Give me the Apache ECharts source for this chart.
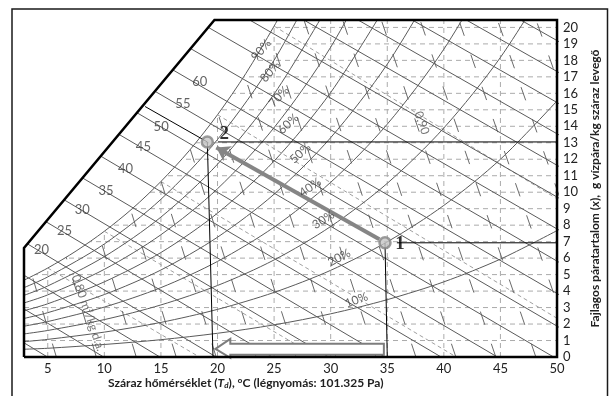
<!DOCTYPE html>
<html>
<head>
<meta charset="utf-8">
<script src="https://cdn.jsdelivr.net/npm/echarts@6/dist/echarts.min.js"></script>
<style>
  html, body { margin: 0; padding: 0; background: #fff; }
  #chart { width: 609px; height: 396px; }
</style>
</head>
<body>
<div id="chart"></div>
<script>
// axis ranges and ticks
const T_MIN = 2.9;
const T_MAX = 50;
const X_MAX = 20.45;
const tempTicks = [5, 10, 15, 20, 25, 30, 35, 40, 45, 50];
const humidityTicks = [0, 1, 2, 3, 4, 5, 6, 7, 8, 9, 10, 11, 12, 13, 14, 15, 16, 17, 18, 19, 20];

// saturation curve (100 %)
const saturationT = [2.9, 5, 7.5, 10, 12.5, 15, 17.5, 20, 22.5, 25, 26];
const saturationX = [4.66, 5.40, 6.43, 7.63, 9.02, 10.65, 12.52, 14.70, 17.20, 20.08, 21.35];

// relative humidity curves, read at these temperatures
const rhTemps = [2.9, 5, 10, 15, 20, 25, 30, 35, 40, 45, 50];
const rh90 = [4.21, 4.86, 6.86, 9.57, 13.20, 18.01, 24.38];
const rh80 = [3.74, 4.31, 6.09, 8.49, 11.70, 15.96, 21.58];
const rh70 = [3.28, 3.77, 5.32, 7.42, 10.21, 13.92, 18.80, 25.16];
const rh60 = [2.81, 3.23, 4.56, 6.34, 8.73, 11.89, 16.05, 21.45];
const rh50 = [2.34, 2.69, 3.79, 5.28, 7.27, 9.88, 13.31, 17.77, 23.52];
const rh40 = [1.87, 2.15, 3.03, 4.21, 5.80, 7.88, 10.60, 14.13, 18.68, 24.47];
const rh30 = [1.40, 1.61, 2.27, 3.16, 4.34, 5.89, 7.92, 10.54, 13.90, 18.18, 23.61];
const rh20 = [0.93, 1.07, 1.51, 2.10, 2.89, 3.92, 5.26, 6.99, 9.20, 12.00, 15.54];
const rh10 = [0.47, 0.53, 0.76, 1.05, 1.44, 1.95, 2.62, 3.48, 4.56, 5.94, 7.67];
const rhCurves = [rh90, rh80, rh70, rh60, rh50, rh40, rh30, rh20, rh10];

// RH curve labels
const rhLabels = ['90%', '80%', '70%', '60%', '50%', '40%', '30%', '20%', '10%'];
const rhLabelT = [23.86, 24.65, 25.43, 26.25, 27.32, 28.19, 29.35, 30.75, 32.27];
const rhLabelX = [18.63, 17.32, 15.80, 14.14, 12.36, 10.30, 8.32, 6.03, 3.46];
const rhLabelAngle = [50, 50, 47, 43, 42, 35, 33, 28, 20];

// enthalpy lines (kJ/kg): temperature where each meets x = 0 and x = X_MAX
const enthalpyValues = [5, 10, 15, 20, 25, 30, 35, 40, 45, 50, 55, 60, 65, 70, 75, 80, 85, 90, 95, 100];
const enthalpyBottomT = [4.97, 9.94, 14.91, 19.88, 24.85, 29.82, 34.79, 39.76, 44.73, 49.70, 54.67, 59.64, 64.61, 69.58, 74.55, 79.52, 84.49, 89.46, 94.43, 99.40];
const enthalpyTopT = [-44.2, -39.4, -34.6, -29.8, -25.0, -20.3, -15.5, -10.7, -5.89, -1.10, 3.69, 8.48, 13.27, 18.06, 22.84, 27.63, 32.42, 37.21, 41.99, 46.79];

// enthalpy scale labels along the left edge
const enthalpyLabels = [20, 25, 30, 35, 40, 45, 50, 55, 60];
const enthalpyLabelT = [4.44, 6.48, 8.05, 10.14, 11.88, 13.45, 15.02, 16.94, 18.43];
const enthalpyLabelX = [6.49, 7.67, 8.93, 10.08, 11.41, 12.75, 13.96, 15.36, 16.69];

// specific volume lines (m3/kg): temperature at x = 0 and at x = X_MAX
const volumeValues = [0.78, 0.79, 0.80, 0.81, 0.82, 0.83, 0.84, 0.85, 0.86, 0.87, 0.88, 0.89, 0.90, 0.91, 0.92, 0.93, 0.94, 0.95];
const volumeBottomT = [2.23, 5.76, 9.29, 12.82, 16.35, 19.88, 23.41, 26.94, 30.47, 34.00, 37.53, 41.06, 44.59, 48.13, 51.66, 55.19, 58.72, 62.25];
const volumeTopT = [-6.54, -3.12, 0.30, 3.72, 7.13, 10.55, 13.97, 17.39, 20.80, 24.22, 27.64, 31.06, 34.47, 37.90, 41.32, 44.74, 48.15, 51.57];
const volumeLabels = ['0,80 m³/kg d.a.', '0,90'];
const volumeLabelT = [8.57, 38.05];
const volumeLabelX = [2.67, 14.2];

// wet-bulb lines: start on saturation, end on the chart edge
const wetBulbStart = [[5, 5.40], [10, 7.63], [15, 10.65], [20, 14.70], [25, 20.08]];
const wetBulbEnd = [[18.4, 0], [28.8, 0], [41.1, 0], [50, 2.35], [50, 9.60]];

// the process: state 1 -> state 2
const pointNames = ['1', '2'];
const pointT = [34.8, 19.1];
const pointX = [6.93, 13.05];
const processArrow = [[34.3, 7.15], [19.9, 12.72]];
const bottomArrow = [[19.82, 0.49], [21.13, 1.1], [21.13, 0.8], [34.7, 0.8], [34.7, 0.13], [21.13, 0.13], [21.13, -0.05]];

// chart outline: left edge, slanted edge, top, right, bottom
const outline = [[2.9, 0], [2.9, 6.62], [19.73, 20.45], [50, 20.45], [50, 0], [2.9, 0]];

const FONT = 'Lato, "Open Sans", sans-serif';
const LINE_GRAY = '#5a5a5a';

function lineSeries(data, lineStyle, z, extra) {
  return Object.assign({
    type: 'line', data: data, symbol: 'none', showSymbol: false, silent: true, animation: false,
    lineStyle: lineStyle, z: z, clip: true
  }, extra || {});
}

function polygonSeries(points, style, z) {
  return {
    type: 'custom', z: z, silent: true, animation: false, clip: false,
    data: [[T_MIN, 0]],
    renderItem: function (params, api) {
      return { type: 'polygon', shape: { points: points.map(p => api.coord(p)) }, style: style };
    }
  };
}

const series = [];

// dashed grid
tempTicks.slice(0, -1).forEach(t => {
  series.push(lineSeries([[t, 0], [t, X_MAX]], { color: '#ababab', width: 1, type: [5, 4] }, 1));
});
humidityTicks.slice(1).forEach(x => {
  series.push(lineSeries([[T_MIN, x], [T_MAX, x]], { color: '#ababab', width: 1, type: [5, 4] }, 1));
});

// wet-bulb lines
wetBulbStart.forEach((p, i) => {
  series.push(lineSeries([p, wetBulbEnd[i]], { color: '#a0a0a0', width: 1, type: [4, 3] }, 1));
});

// specific volume lines
volumeValues.forEach((v, i) => {
  series.push(lineSeries([[volumeBottomT[i], 0], [volumeTopT[i], X_MAX]], { color: '#6a6a6a', width: 1, type: [14, 20] }, 1));
});

// RH curves
rhCurves.forEach(curve => {
  series.push(lineSeries(curve.map((x, i) => [rhTemps[i], x]), { color: LINE_GRAY, width: 1 }, 1, { smooth: 0.3 }));
});

// white area above saturation
series.push(polygonSeries(
  saturationT.slice(0, -1).map((t, i) => [t, saturationX[i]]).concat([[25.28, X_MAX], [T_MIN, X_MAX]]),
  { fill: '#fff', stroke: '#fff', lineWidth: 0.6 }, 2));

// saturation curve
series.push(lineSeries(saturationT.map((t, i) => [t, saturationX[i]]), { color: LINE_GRAY, width: 1 }, 3, { smooth: 0.3 }));

// enthalpy lines
enthalpyValues.forEach((h, i) => {
  series.push(lineSeries([[enthalpyBottomT[i], 0], [enthalpyTopT[i], X_MAX]], { color: LINE_GRAY, width: 1 }, 3));
});

// white area outside the slanted edge (reaching a little into the margin)
series.push(polygonSeries(
  [outline[1], outline[2], [outline[2][0], 20.85], [2.05, 20.85], [2.05, outline[1][1]]],
  { fill: '#fff', stroke: '#fff', lineWidth: 1 }, 4));

// outline
series.push(lineSeries(outline, { color: '#000', width: 2.5, join: 'miter' }, 10, { clip: false }));

// reading lines for states 1 and 2
const thin = { color: '#000', width: 1 };
series.push(lineSeries([[13.6, 15.2], [pointT[1], pointX[1]]], thin, 8));
series.push(lineSeries([[20.04, pointX[1]], [T_MAX, pointX[1]]], thin, 8));
series.push(lineSeries([[35.85, pointX[0]], [T_MAX, pointX[0]]], thin, 8));
series.push(lineSeries([[pointT[1], pointX[1]], [19.6, 0]], thin, 8));
series.push(lineSeries([[pointT[0], pointX[0]], [35.0, 0]], thin, 8));

// process arrow
series.push({
  type: 'lines', coordinateSystem: 'cartesian2d', z: 9, silent: true, animation: false,
  data: [{ coords: processArrow }],
  symbol: ['none', 'arrow'], symbolSize: 13,
  lineStyle: { color: '#858585', width: 4, opacity: 1, curveness: 0 }
});

// hollow arrow along the temperature axis
series.push(polygonSeries(bottomArrow, { fill: '#fff', stroke: '#7d7d7d', lineWidth: 2 }, 9));

// enthalpy scale labels
series.push({
  type: 'scatter', z: 12, symbolSize: 0, silent: true, animation: false,
  data: enthalpyLabels.map((h, i) => ({ value: [enthalpyLabelT[i], enthalpyLabelX[i]], label: { formatter: String(h) } })),
  label: { show: true, position: 'inside', fontSize: 13, color: '#3c3c3c', fontFamily: FONT }
});

// RH labels
series.push({
  type: 'scatter', z: 12, symbolSize: 0, silent: true, animation: false,
  data: rhLabels.map((s, i) => ({ value: [rhLabelT[i], rhLabelX[i]], label: { formatter: s, rotate: rhLabelAngle[i] } })),
  label: { show: true, position: 'inside', fontSize: 12, color: '#3c3c3c', fontFamily: FONT }
});

// volume labels
series.push({
  type: 'scatter', z: 12, symbolSize: 0, silent: true, animation: false,
  data: volumeLabels.map((s, i) => ({ value: [volumeLabelT[i], volumeLabelX[i]], label: { formatter: s } })),
  label: { show: true, position: 'inside', rotate: -71, fontSize: 12, color: '#555', fontFamily: FONT }
});

// state points
series.push({
  type: 'scatter', z: 11, silent: true, animation: false,
  symbolSize: 11,
  itemStyle: { color: '#c4c4c4', borderColor: '#858585', borderWidth: 2.5 },
  data: pointNames.map((n, i) => ({
    value: [pointT[i], pointX[i]],
    label: { formatter: n, offset: i === 0 ? [15, 1] : [17, -8] }
  })),
  label: { show: true, position: 'inside', fontSize: 19, fontWeight: 'bold', color: '#000', fontFamily: '"Liberation Serif", "DejaVu Serif", serif' }
});

const option = {
  animation: false,
  backgroundColor: '#fff',
  grid: { left: 24, right: 45, top: 20, bottom: 39, containLabel: false },
  xAxis: {
    type: 'value', min: T_MIN, max: T_MAX,
    axisLine: { show: false }, axisTick: { show: false }, splitLine: { show: false },
    axisLabel: { customValues: tempTicks, fontSize: 13, color: '#222', fontFamily: FONT, margin: 5 }
  },
  yAxis: {
    type: 'value', position: 'right', min: 0, max: X_MAX,
    axisLine: { show: false }, axisTick: { show: false }, splitLine: { show: false },
    axisLabel: { customValues: humidityTicks, fontSize: 13, color: '#222', fontFamily: FONT, margin: 6 },
    name: 'Fajlagos páratartalom ({i|x}),  g vízpára/kg száraz levegő',
    nameLocation: 'middle', nameRotate: 90, nameGap: 24,
    nameTextStyle: {
      fontSize: 12, fontWeight: 'bold', color: '#222', fontFamily: FONT,
      rich: { i: { fontSize: 12, fontWeight: 'bold', fontStyle: 'italic', color: '#222', fontFamily: FONT } }
    }
  },
  graphic: [
    {
      type: 'rect', z: -1, silent: true,
      shape: { x: 12, y: 9, width: 595.5, height: 400 },
      style: { fill: null, stroke: '#1a1a1a', lineWidth: 1.5 }
    },
    {
      type: 'text', left: 108, top: 377, silent: true,
      style: {
        text: 'Száraz hőmérséklet ({i|T}{s|d}), °C (légnyomás: 101.325 Pa)',
        font: 'bold 12px ' + FONT, fill: '#222',
        rich: {
          i: { fontSize: 12, fontWeight: 'bold', fontStyle: 'italic', fontFamily: FONT, fill: '#222' },
          s: { fontSize: 8, fontWeight: 'bold', fontStyle: 'italic', fontFamily: FONT, fill: '#222', padding: [5, 0, 0, 0] }
        }
      }
    }
  ],
  series: series
};

const chart = echarts.init(document.getElementById('chart'));
chart.setOption(option);
</script>
</body>
</html>
